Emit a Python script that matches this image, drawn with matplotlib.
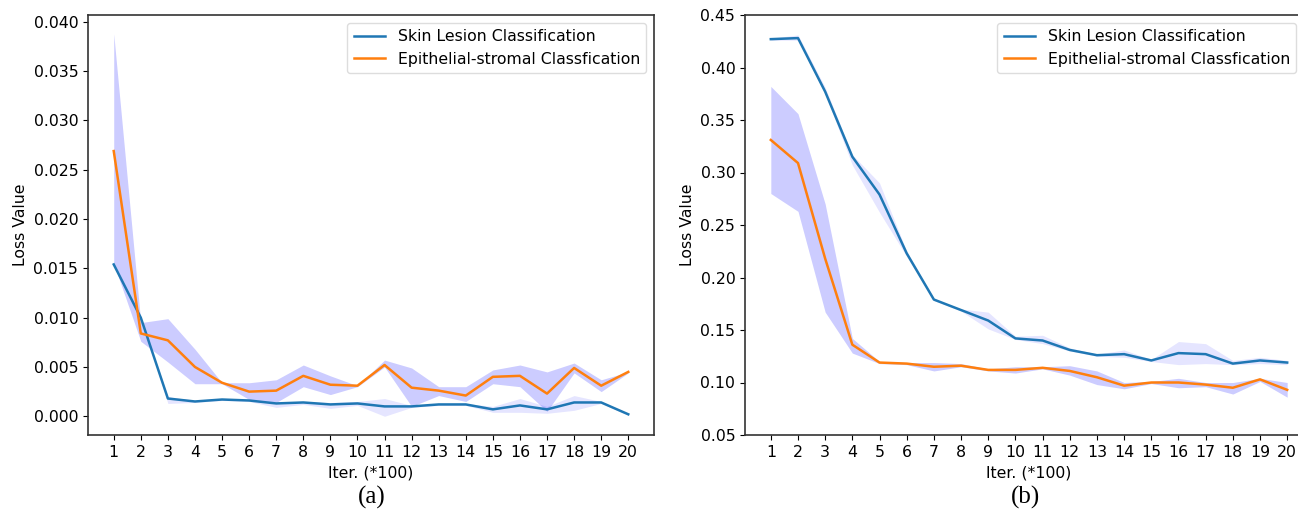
import matplotlib
matplotlib.use("Agg")
import matplotlib.pyplot as plt
import numpy as np

iters = list(range(1, 21))
tick_labels = [str(i) for i in iters]
series_names = ["Skin Lesion Classification", "Epithelial-stromal Classfication"]

# (a)
a_skin = [0.0154, 0.0100, 0.0018, 0.0015, 0.0017, 0.0016, 0.0013, 0.0014, 0.0012, 0.0013,
          0.0010, 0.0010, 0.0012, 0.0012, 0.0007, 0.0011, 0.0007, 0.0014, 0.0014, 0.0002]
a_skin_hi = [0.0155, 0.0101, 0.0020, 0.0016, 0.0018, 0.0017, 0.0014, 0.0015, 0.0014, 0.0015,
             0.0018, 0.0011, 0.0013, 0.0013, 0.0010, 0.0018, 0.0010, 0.0021, 0.0015, 0.0003]
a_skin_lo = [0.0153, 0.0099, 0.0013, 0.0014, 0.0016, 0.0015, 0.0009, 0.0012, 0.0008, 0.0011,
             0.0000, 0.0009, 0.0011, 0.0011, 0.0004, 0.0004, 0.0003, 0.0006, 0.0013, 0.0001]
a_epi = [0.0269, 0.0084, 0.0077, 0.0050, 0.0034, 0.0025, 0.0026, 0.0041, 0.0032, 0.0031,
         0.0052, 0.0029, 0.0026, 0.0021, 0.0040, 0.0041, 0.0023, 0.0049, 0.0031, 0.0045]
a_epi_hi = [0.0388, 0.0095, 0.0099, 0.0068, 0.0034, 0.0034, 0.0037, 0.0052, 0.0041, 0.0031,
            0.0057, 0.0049, 0.0030, 0.0030, 0.0047, 0.0052, 0.0045, 0.0054, 0.0037, 0.0045]
a_epi_lo = [0.0155, 0.0076, 0.0055, 0.0033, 0.0033, 0.0017, 0.0014, 0.0030, 0.0022, 0.0030,
            0.0050, 0.0010, 0.0021, 0.0015, 0.0033, 0.0030, 0.0005, 0.0044, 0.0025, 0.0044]

# (b)
b_skin = [0.427, 0.428, 0.377, 0.315, 0.279, 0.223, 0.179, 0.169, 0.159, 0.142,
          0.140, 0.131, 0.126, 0.127, 0.121, 0.128, 0.127, 0.118, 0.121, 0.119]
b_skin_hi = [0.428, 0.431, 0.381, 0.317, 0.290, 0.225, 0.180, 0.170, 0.167, 0.144,
             0.145, 0.133, 0.127, 0.131, 0.122, 0.139, 0.137, 0.121, 0.124, 0.121]
b_skin_lo = [0.426, 0.426, 0.375, 0.307, 0.262, 0.220, 0.178, 0.168, 0.151, 0.141,
             0.137, 0.130, 0.125, 0.124, 0.120, 0.117, 0.118, 0.117, 0.118, 0.117]
b_epi = [0.331, 0.309, 0.218, 0.136, 0.119, 0.118, 0.115, 0.116, 0.112, 0.112,
         0.114, 0.111, 0.105, 0.097, 0.100, 0.100, 0.098, 0.095, 0.103, 0.093]
b_epi_hi = [0.382, 0.356, 0.270, 0.142, 0.120, 0.119, 0.119, 0.118, 0.113, 0.115,
            0.115, 0.116, 0.111, 0.100, 0.101, 0.104, 0.100, 0.100, 0.104, 0.100]
b_epi_lo = [0.280, 0.263, 0.167, 0.128, 0.118, 0.117, 0.111, 0.115, 0.111, 0.109,
            0.113, 0.107, 0.098, 0.094, 0.099, 0.095, 0.096, 0.089, 0.101, 0.086]

FS = 11.3
plt.rcParams['font.family'] = ['DejaVu Sans']
fig = plt.figure(figsize=(12.98, 5.12), dpi=100)
ax1 = fig.add_axes([88/1298, 77/512, 566/1298, 420/512])
ax2 = fig.add_axes([745/1298, 77/512, 568/1298, 420/512])

def draw(ax, skin, s_hi, s_lo, epi, e_hi, e_lo, ylim, yticks, fmt, anchor_x):
    ax.fill_between(iters, s_lo, s_hi, color='blue', alpha=0.1, linewidth=0)
    ax.fill_between(iters, e_lo, e_hi, color='blue', alpha=0.2, linewidth=0)
    ax.plot(iters, skin, color='#1f77b4', lw=1.8, label=series_names[0])
    ax.plot(iters, epi, color='#ff7f0e', lw=1.8, label=series_names[1])
    ax.set_xticks(iters)
    ax.set_xticklabels(tick_labels, fontsize=FS)
    ax.set_yticks(yticks)
    ax.set_yticklabels([fmt.format(v) for v in yticks], fontsize=FS)
    ax.set_ylim(*ylim)
    ax.set_xlim(0.05, 20.95)
    ax.set_xlabel("Iter. (*100)", fontsize=FS, labelpad=4)
    ax.set_ylabel("Loss Value", fontsize=FS)
    for s in ax.spines.values():
        s.set_linewidth(1.2)
        s.set_color('#333333')
    ax.legend(loc='upper right', bbox_to_anchor=(anchor_x, 1), fontsize=FS,
              framealpha=1, edgecolor='#dddddd')

draw(ax1, a_skin, a_skin_hi, a_skin_lo, a_epi, a_epi_hi, a_epi_lo,
     (-0.0019, 0.0407), [0.000, 0.005, 0.010, 0.015, 0.020, 0.025, 0.030, 0.035, 0.040], "{:.3f}", 1.0)
draw(ax2, b_skin, b_skin_hi, b_skin_lo, b_epi, b_epi_hi, b_epi_lo,
     (0.05, 0.45), [0.05, 0.10, 0.15, 0.20, 0.25, 0.30, 0.35, 0.40, 0.45], "{:.2f}", 1 - 9/568)

fig.text(372/1298, 1 - 497/512, "(a)", family='Liberation Serif', fontsize=18, ha='center', va='center')
fig.text(1026/1298, 1 - 497/512, "(b)", family='Liberation Serif', fontsize=18, ha='center', va='center')

fig.savefig("out.png", dpi=100)
